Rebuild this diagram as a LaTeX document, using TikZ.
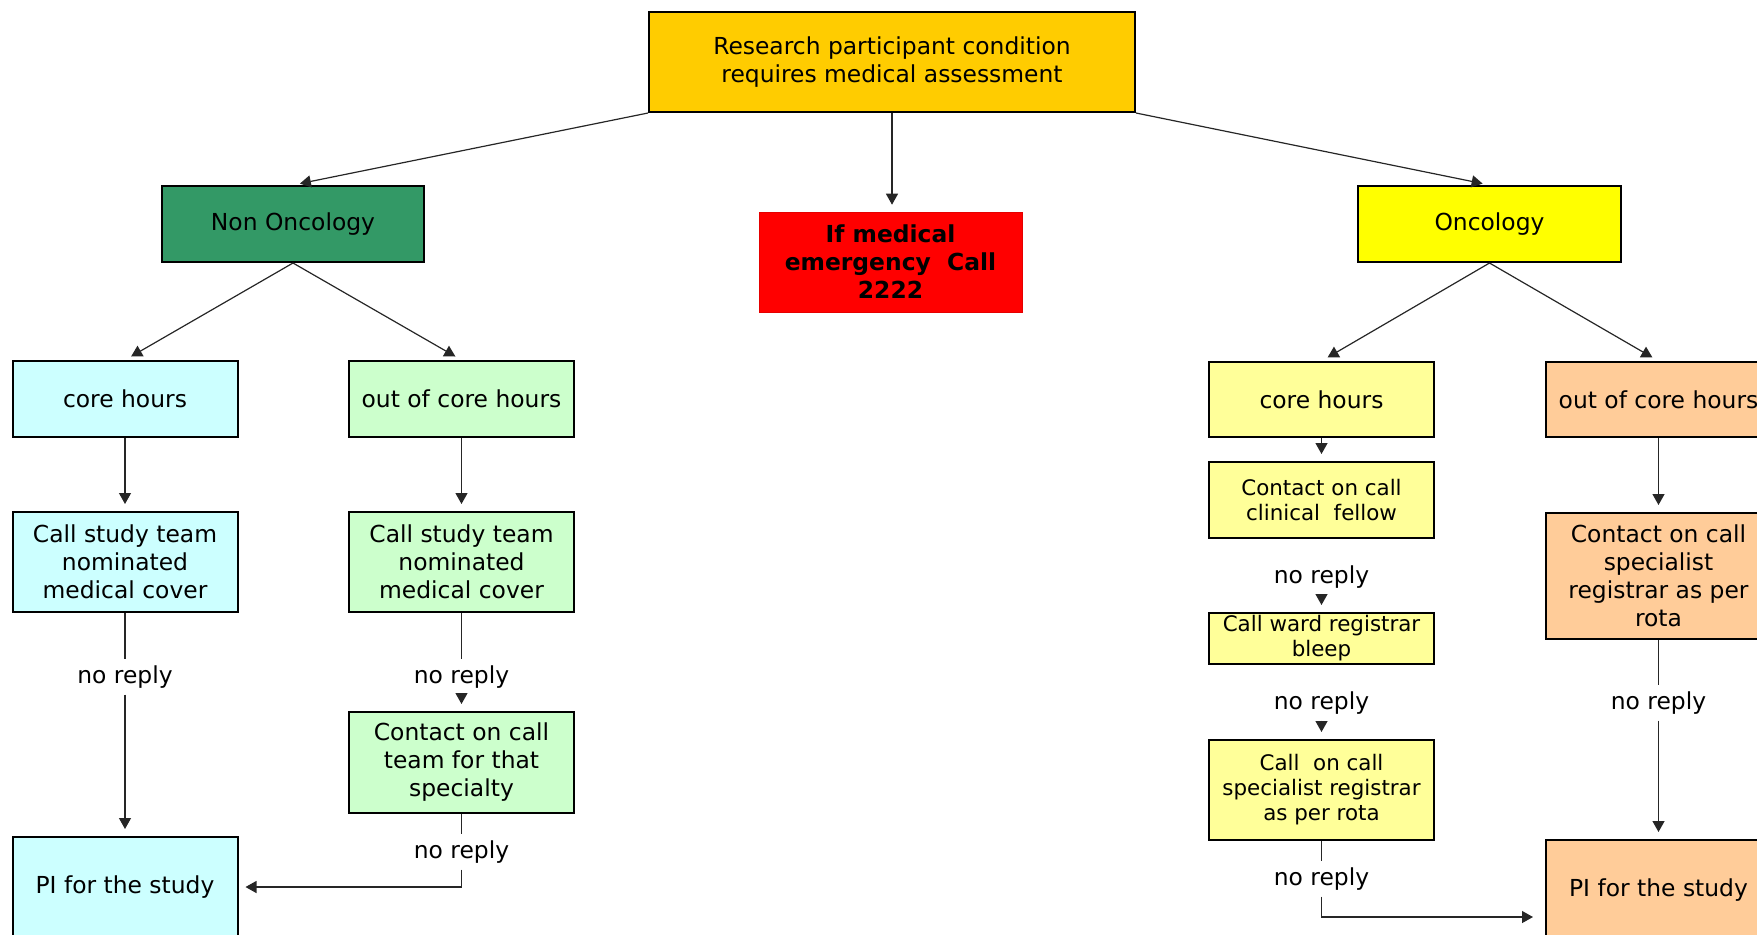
\documentclass[tikz,border=0pt]{standalone}
\usepackage{fontspec}
\setmainfont{DejaVu Sans}
\usetikzlibrary{arrows.meta}

\definecolor{topgold}{HTML}{FFCC00}
\definecolor{nongreen}{HTML}{339966}
\definecolor{oncyellow}{HTML}{FFFF00}
\definecolor{coreblue}{HTML}{CCFFFF}
\definecolor{outgreen}{HTML}{CCFFCC}
\definecolor{paleyellow}{HTML}{FFFF99}
\definecolor{peach}{HTML}{FFCC99}

\newcommand\fsmain{\fontsize{11.7}{14}\selectfont}
\newcommand\fssmall{\fontsize{10.7}{12.5}\selectfont}

\begin{document}
\begin{tikzpicture}[x=0.5pt, y=-0.5pt,
    box/.style={draw=black, line width=1pt, align=center, inner sep=0pt, font=\fsmain},
    widebox/.style={box, minimum width=112.5pt},
    stepbox/.style={widebox, fill=paleyellow, font=\fssmall},
    link/.style={line width=0.6pt, draw=black!85},
    arrow/.style={link, -{Triangle[length=5.5pt,width=6pt]}, shorten >=3.5pt},
    noreply/.style={inner xsep=2pt, inner ysep=3pt, font=\fsmain}]

    \useasboundingbox (0,0) rectangle (1757,934);

    % top level
    \node[box, fill=topgold, minimum width=243pt, minimum height=50pt] (research) at (892,62) {Research participant condition\\requires medical assessment};
    \node[box, fill=nongreen, minimum width=131pt, minimum height=38pt] (nononc) at (293,224) {Non Oncology};
    \node[box, draw=red!90!black, line width=0.3pt, fill=red, minimum width=131.5pt, minimum height=50pt, font=\fsmain\bfseries] (emergency) at (890.5,262) {If medical\\emergency\ \ Call\\2222};
    \node[box, fill=oncyellow, minimum width=131.5pt, minimum height=38pt] (onc) at (1489.5,224) {Oncology};

    % non oncology side
    \node[widebox, fill=coreblue, minimum height=38pt] (lcore) at (125,399) {core hours};
    \node[widebox, fill=outgreen, minimum height=38pt] (lout) at (461.5,399) {out of core hours};
    \node[widebox, fill=coreblue, minimum height=50pt] (lcall) at (125,562) {Call study team\\nominated\\medical cover};
    \node[widebox, fill=outgreen, minimum height=50pt] (lcallout) at (461.5,562) {Call study team\\nominated\\medical cover};
    \node[widebox, fill=outgreen, minimum height=50.5pt] (lteam) at (461.5,762.5) {Contact on call\\team for that\\specialty};
    \node[widebox, fill=coreblue, minimum height=50pt] (lpi) at (125,887) {PI for the study};

    \node[noreply] (nra) at (125,677) {no reply};
    \node[noreply] (nrb) at (461.5,677) {no reply};
    \node[noreply] (nrc) at (461.5,852) {no reply};

    % oncology side
    \node[widebox, fill=paleyellow, minimum height=37.5pt] (ocore) at (1321.5,399.5) {core hours};
    \node[stepbox, minimum height=38pt] (ofellow) at (1321.5,500) {Contact on call\\clinical\ \ fellow};
    \node[stepbox, minimum height=25.5pt] (oward) at (1321.5,638.5) {Call ward registrar\\bleep};
    \node[stepbox, minimum height=50pt] (ospec) at (1321.5,790) {Call\ \ on call\\specialist registrar\\as per rota};
    \node[widebox, fill=peach, minimum height=37.5pt] (oout) at (1658.5,399.5) {out of core hours};
    \node[widebox, fill=peach, minimum height=63pt] (ocontact) at (1658.5,576) {Contact on call\\specialist\\registrar as per\\rota};
    \node[widebox, fill=peach, minimum height=50pt] (opi) at (1658.5,890) {PI for the study};

    \node[noreply] (nrd) at (1321.5,577) {no reply};
    \node[noreply] (nre) at (1321.5,703) {no reply};
    \node[noreply] (nrf) at (1321.5,879) {no reply};
    \node[noreply] (nrg) at (1658.5,703) {no reply};
    \coordinate (piin) at (1540,917);

    % connectors
    \draw[arrow] (research.south west) -- (nononc.north);
    \draw[arrow] (research.south) -- (research.south |- emergency.north);
    \draw[arrow] (research.south east) -- (onc.north);
    \draw[arrow] (nononc.south) -- (lcore.north);
    \draw[arrow] (nononc.south) -- (lout.north);
    \draw[arrow] (onc.south) -- (ocore.north);
    \draw[arrow] (onc.south) -- (oout.north);

    \draw[arrow] (lcore) -- (lcall);
    \draw[arrow] (lout) -- (lcallout);
    \draw[link] (lcall) -- (nra);
    \draw[arrow] (nra) -- (lpi);
    \draw[link] (lcallout) -- (nrb);
    \draw[arrow] (nrb) -- (lteam);
    \draw[link] (lteam) -- (nrc);
    \draw[arrow] (nrc.south) |- (lpi.east);

    \draw[arrow] (ocore) -- (ofellow);
    \draw[arrow] (nrd) -- (oward);
    \draw[arrow] (nre) -- (ospec);
    \draw[link] (ospec) -- (nrf);
    \draw[arrow] (nrf.south) |- (piin);
    \draw[arrow] (oout) -- (ocontact);
    \draw[link] (ocontact) -- (nrg);
    \draw[arrow] (nrg) -- (opi);
\end{tikzpicture}
\end{document}
